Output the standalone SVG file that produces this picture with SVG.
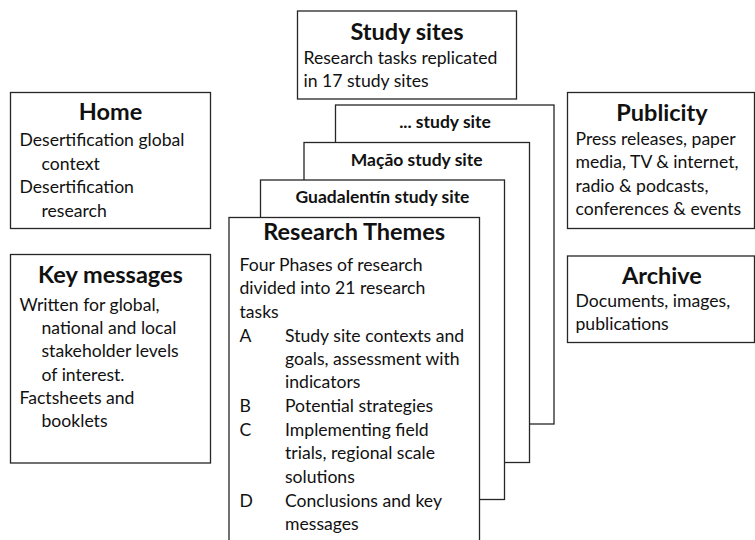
<svg xmlns="http://www.w3.org/2000/svg" width="755" height="540" viewBox="0 0 755 540">
<style>
rect{fill:#fff;stroke:#262626;stroke-width:1.3}
text{font-family:Lato,"Open Sans",sans-serif;fill:#111}
.t{font-size:23.5px;font-weight:bold;text-anchor:middle}
.s{font-size:17.5px;font-weight:bold;text-anchor:middle}
.b{font-size:17.6px}
</style>
<rect width="755" height="540" style="fill:#fff;stroke:none"/>
<g id="stack">
<g id="site-more"><rect x="335.5" y="105" width="218.5" height="319"/><text class="s" x="445" y="128">... study site</text></g>
<g id="site-macao"><rect x="304" y="142.5" width="225.5" height="320"/><text class="s" x="416.7" y="166">Mação study site</text></g>
<g id="site-guadalentin"><rect x="260.5" y="180" width="244" height="319.5"/><text class="s" x="382.5" y="203">Guadalentín study site</text></g>
</g>
<g id="home"><rect x="10.5" y="92.5" width="200" height="136"/>
<text class="t" x="110.5" y="120">Home</text>
<text class="b" x="19.5" y="146">Desertification global</text>
<text class="b" x="41.5" y="169.5">context</text>
<text class="b" x="19.5" y="193">Desertification</text>
<text class="b" x="41.5" y="217">research</text></g>
<g id="key-messages"><rect x="10.5" y="254.5" width="200" height="208.5"/>
<text class="t" x="110.5" y="283">Key messages</text>
<text class="b" x="19.5" y="310.5">Written for global,</text>
<text class="b" x="41.5" y="334">national and local</text>
<text class="b" x="41.5" y="357.3">stakeholder levels</text>
<text class="b" x="41.5" y="380.7">of interest.</text>
<text class="b" x="19.5" y="404">Factsheets and</text>
<text class="b" x="41.5" y="427">booklets</text></g>
<g id="study-sites"><rect x="297.5" y="11" width="219" height="88"/>
<text class="t" x="407" y="40">Study sites</text>
<text class="b" x="303.5" y="63.5">Research tasks replicated</text>
<text class="b" x="303.5" y="87">in 17 study sites</text></g>
<g id="research-themes"><rect x="229" y="217.5" width="250.5" height="330"/>
<text class="t" x="354.2" y="239.5">Research Themes</text>
<text class="b" x="239.5" y="270.7">Four Phases of research</text>
<text class="b" x="239.5" y="294.3">divided into 21 research</text>
<text class="b" x="239.5" y="318">tasks</text>
<text class="b" x="239.5" y="341.5">A</text><text class="b" x="285" y="341.5">Study site contexts and</text>
<text class="b" x="285" y="365">goals, assessment with</text>
<text class="b" x="285" y="388.3">indicators</text>
<text class="b" x="239.5" y="412">B</text><text class="b" x="285" y="412">Potential strategies</text>
<text class="b" x="239.5" y="435.5">C</text><text class="b" x="285" y="435.5">Implementing field</text>
<text class="b" x="285" y="459">trials, regional scale</text>
<text class="b" x="285" y="482.5">solutions</text>
<text class="b" x="239.5" y="506.5">D</text><text class="b" x="285" y="506.5">Conclusions and key</text>
<text class="b" x="285" y="530">messages</text></g>
<g id="publicity"><rect x="567.5" y="92.5" width="187" height="136"/>
<text class="t" x="662" y="121">Publicity</text>
<text class="b" x="575.5" y="145">Press releases, paper</text>
<text class="b" x="575.5" y="168">media, TV &amp; internet,</text>
<text class="b" x="575.5" y="191.5">radio &amp; podcasts,</text>
<text class="b" x="575.5" y="215">conferences &amp; events</text></g>
<g id="archive"><rect x="567.5" y="256" width="187" height="86.5"/>
<text class="t" x="662" y="283.5">Archive</text>
<text class="b" x="575.5" y="307">Documents, images,</text>
<text class="b" x="575.5" y="330">publications</text></g>
<g id="connectors"/>
</svg>
